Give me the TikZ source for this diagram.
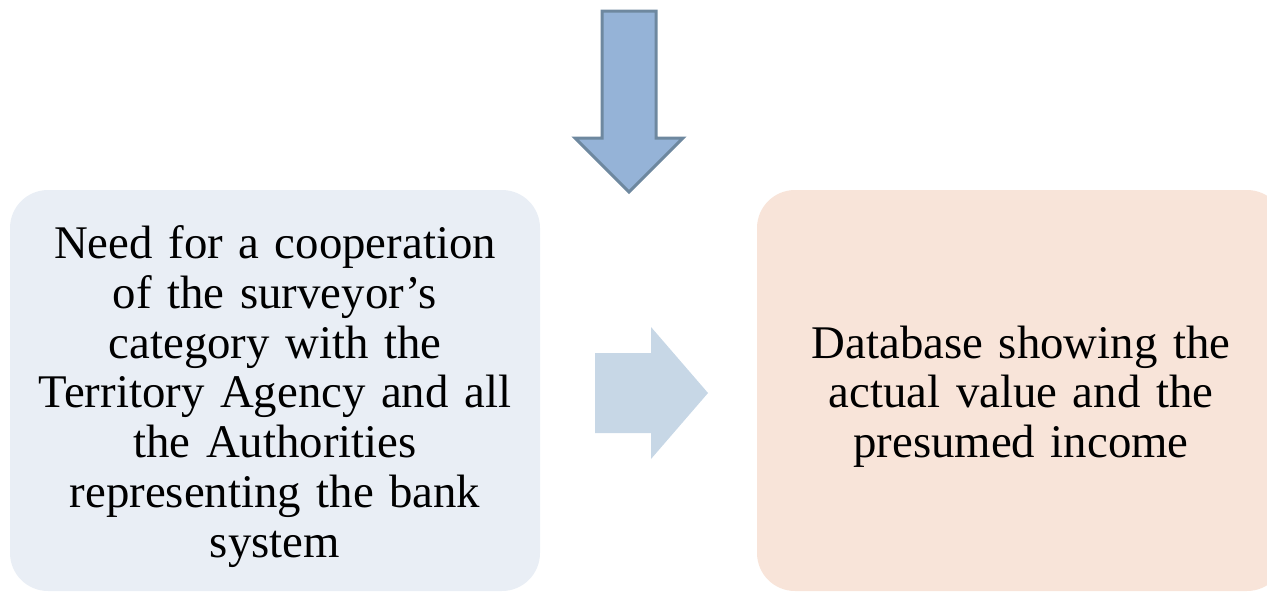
\documentclass[tikz,border=0pt]{standalone}
\usepackage{fontspec}
\setmainfont{Liberation Serif}
\definecolor{lbox}{HTML}{E9EEF5}
\definecolor{rbox}{HTML}{F8E4D9}
\definecolor{darrowfill}{HTML}{95B3D7}
\definecolor{darrowline}{HTML}{6E889F}
\definecolor{rarrowfill}{HTML}{C7D7E6}
\begin{document}
\begin{tikzpicture}[x=1pt,y=-1pt,
  box/.style={draw=none, rounded corners=38pt, inner sep=0pt},
  boxtext/.style={align=center, inner sep=0pt, text width=510pt,
    font=\fontsize{46.8}{49.7}\selectfont}]
\useasboundingbox (0,0) rectangle (1267,592);
\clip (0,0) rectangle (1267,592);
\node[box, fill=lbox, minimum width=530pt, minimum height=401pt] (left) at (275,390.5) {};
\node[box, fill=rbox, minimum width=528pt, minimum height=401pt] (right) at (1021,390.5) {};
\node[boxtext] (lefttext) at ([yshift=-6pt]left.center)
  {Need for a cooperation\\of the surveyor's\\category with the\\Territory Agency and all\\the Authorities\\representing the bank\\system};
\node[boxtext] (righttext) at ([yshift=-6pt]right.center)
  {Database showing the\\actual value and the\\presumed income};
% down arrow
\draw[fill=darrowfill, draw=darrowline, line width=3pt, line join=miter]
  (602,11) -- (656,11) -- (656,138) -- (683,138) -- (629,192) -- (575,138) -- (602,138) -- cycle;
% right arrow
\fill[rarrowfill]
  (595,353) -- (651,353) -- (651,327) -- (708,393) -- (651,459) -- (651,433) -- (595,433) -- cycle;
\end{tikzpicture}
\end{document}
